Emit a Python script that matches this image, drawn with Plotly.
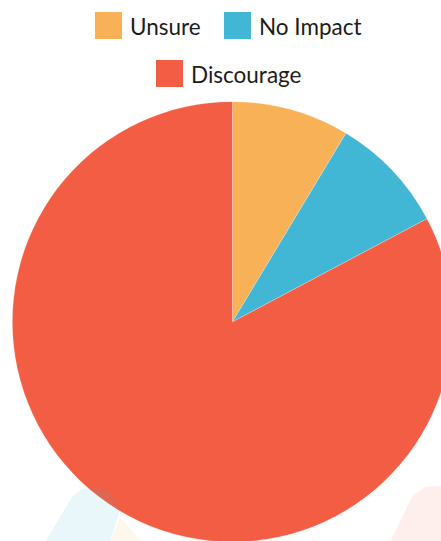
import plotly.graph_objects as go

# Data
categories = ["Unsure", "No Impact", "Discourage"]
values = [5, 5, 48]
colors = ["#F9B157", "#41B6D5", "#F25D43"]

W, H = 465, 542

def fx(px):
    return px / W

def fy(py):
    return 1 - py / H

fig = go.Figure()
fig.add_trace(go.Pie(
    labels=categories,
    values=values,
    marker=dict(colors=colors, line=dict(color="rgba(255,255,255,0.5)", width=0.5)),
    sort=False,
    direction="clockwise",
    rotation=0,
    textinfo="none",
    hoverinfo="label+value+percent",
    showlegend=False,
    domain=dict(x=[0, 1], y=[0, 0.8124]),
))

shapes = []
annotations = []
# custom legend (box pixel positions: left, top)
legend_pos = [(95, 12), (224, 12), (156, 60)]
box = 27
for name, col, (lx, ty) in zip(categories, colors, legend_pos):
    shapes.append(dict(type="rect", xref="paper", yref="paper",
                       x0=fx(lx), x1=fx(lx + box), y0=fy(ty + box), y1=fy(ty),
                       fillcolor=col, line=dict(width=0), layer="above"))
    annotations.append(dict(text=name, xref="paper", yref="paper",
                            x=fx(lx + box + 6), y=fy(ty + box / 2 + 1),
                            xanchor="left", yanchor="middle", showarrow=False,
                            font=dict(family="Lato", size=22.5, color="#1c1c1c", weight=400)))

# faint watermark shapes
def poly(pts):
    d = "M " + " L ".join(f"{fx(x):.4f},{fy(y):.4f}" for x, y in pts) + " Z"
    return d

shapes.append(dict(type="path", xref="paper", yref="paper",
                   path=poly([(45, 542), (72, 497), (82, 489), (97, 487), (110, 492), (120, 510), (110, 542)]),
                   fillcolor="rgba(65,182,213,0.11)", line=dict(width=0), layer="above"))
shapes.append(dict(type="path", xref="paper", yref="paper",
                   path=poly([(110, 542), (120, 517), (142, 542)]),
                   fillcolor="rgba(249,177,87,0.10)", line=dict(width=0), layer="below"))
shapes.append(dict(type="path", xref="paper", yref="paper",
                   path=poly([(390, 542), (413, 495), (425, 487), (441, 486), (465, 486), (465, 542)]),
                   fillcolor="rgba(242,93,67,0.10)", line=dict(width=0), layer="below"))

fig.update_layout(
    width=W, height=H,
    margin=dict(l=0, r=0, t=0, b=0),
    paper_bgcolor="white", plot_bgcolor="white",
    shapes=shapes, annotations=annotations,
)

fig.write_html("out.html", config=dict(displayModeBar=False), post_script=(
    "document.body.style.margin='0';"
    "document.body.style.overflow='hidden';"
    "document.documentElement.style.overflow='hidden';"
))
